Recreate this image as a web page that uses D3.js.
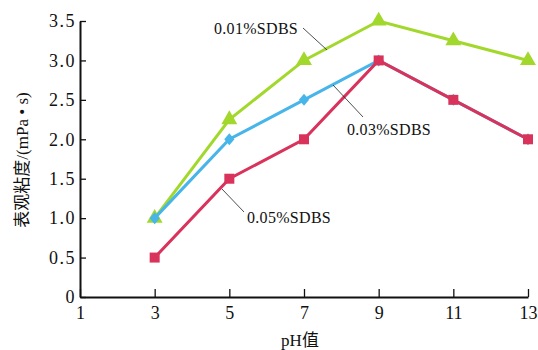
<!DOCTYPE html>
<html lang="zh">
<head>
  <meta charset="UTF-8">
  <title>表观粘度</title>
  <script src="https://d3js.org/d3.v7.min.js"></script>
  <style>
    body { margin: 0; background: #fff; }
    text { font-family: "Liberation Serif", "Noto Sans CJK SC", serif; fill: #111; }
  </style>
</head>
<body>
  <div id="chart"></div>
  <script>
    const phValues = [3, 5, 7, 9, 11, 13]
    const sdbs001 = [1.0, 2.25, 3.0, 3.5, 3.25, 3.0]
    const sdbs003 = [1.0, 2.0, 2.5, 3.0, 2.5, 2.0]
    const sdbs005 = [0.5, 1.5, 2.0, 3.0, 2.5, 2.0]
    const xTicks = [1, 3, 5, 7, 9, 11, 13]
    const yTicks = [0, 0.5, 1.0, 1.5, 2.0, 2.5, 3.0, 3.5]

    const W = 538, H = 350
    const padL = 80, padR = 528, padT = 21, padB = 297

    const svg = d3.select('#chart').append('svg')
      .attr('width', W)
      .attr('height', H)

    const x = d3.scaleLinear().domain([1, 13]).range([padL, padR])
    const y = d3.scaleLinear().domain([0, 3.5]).range([padB, padT])

    // axes, ticks pointing inward
    const xAxis = svg.append('g')
      .attr('transform', `translate(0,${padB})`)
      .call(d3.axisBottom(x).tickValues(xTicks).tickSizeInner(-8).tickSizeOuter(0).tickPadding(8)
        .tickFormat(d3.format('d')))
    const yAxis = svg.append('g')
      .attr('transform', `translate(${padL},0)`)
      .call(d3.axisLeft(y).tickValues(yTicks).tickSizeInner(-6).tickSizeOuter(0).tickPadding(4)
        .tickFormat(d => d === 0 ? '0' : d3.format('.1f')(d)))
    svg.selectAll('.domain').attr('stroke', '#111').attr('stroke-width', 2)
    svg.selectAll('.tick line').attr('stroke', '#111').attr('stroke-width', 1.3)
    svg.selectAll('.tick text').style('font-size', '18px').attr('letter-spacing', '1.5px')
    xAxis.selectAll('.tick text').attr('dy', '0.75em').attr('letter-spacing', '0px')

    // narrower diamond than d3's default
    const diamond = {
      draw(ctx, size) {
        const h = Math.sqrt(size) * 0.75, w = h * 0.85
        ctx.moveTo(0, -h); ctx.lineTo(w, 0); ctx.lineTo(0, h); ctx.lineTo(-w, 0); ctx.closePath()
      }
    }

    const series = [
      { name: '0.01%SDBS', values: sdbs001, color: '#a2d82c', marker: d3.symbolTriangle, size: 110 },
      { name: '0.03%SDBS', values: sdbs003, color: '#47b5ea', marker: diamond, size: 64 },
      { name: '0.05%SDBS', values: sdbs005, color: '#d9325b', marker: d3.symbolSquare, size: 100 }
    ]

    const line = d3.line()
      .x((d, i) => x(phValues[i]))
      .y(d => y(d))

    series.forEach(s => {
      const g = svg.append('g')
      g.append('path')
        .attr('d', line(s.values))
        .attr('fill', 'none')
        .attr('stroke', s.color)
        .attr('stroke-width', 3)
      g.selectAll('path.pt')
        .data(s.values)
        .enter()
        .append('path')
          .attr('class', 'pt')
          .attr('d', d3.symbol().type(s.marker).size(s.size))
          .attr('transform', (d, i) => `translate(${x(phValues[i])},${y(d)})`)
          .attr('fill', s.color)
    })

    // annotations with leader lines
    const notes = [
      { text: '0.01%SDBS', tx: 214, ty: 34, x1: 303, y1: 28, x2: 327, y2: 50 },
      { text: '0.03%SDBS', tx: 347, ty: 135, x1: 333, y1: 85, x2: 363, y2: 117 },
      { text: '0.05%SDBS', tx: 247, ty: 223, x1: 222, y1: 189, x2: 244, y2: 212 }
    ]
    notes.forEach(n => {
      svg.append('line')
        .attr('x1', n.x1).attr('y1', n.y1)
        .attr('x2', n.x2).attr('y2', n.y2)
        .attr('stroke', '#222')
        .attr('stroke-width', 0.8)
      svg.append('text')
        .attr('x', n.tx)
        .attr('y', n.ty)
        .style('font-size', '16px')
        .attr('letter-spacing', '0.3px')
        .text(n.text)
    })

    svg.append('text')
      .attr('x', 300)
      .attr('y', 346)
      .attr('text-anchor', 'middle')
      .style('font-size', '17px')
      .text('pH值')

    svg.append('text')
      .attr('transform', 'translate(28,160) rotate(-90)')
      .attr('text-anchor', 'middle')
      .style('font-size', '17px')
      .text('表观粘度/(mPa • s)')
  </script>
</body>
</html>
